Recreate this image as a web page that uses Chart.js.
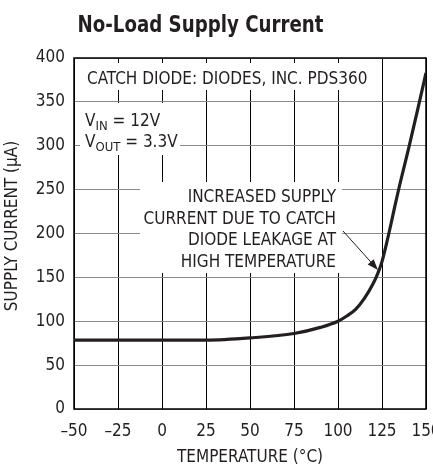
<!DOCTYPE html>
<html>
<head>
<meta charset="utf-8">
<script src="https://cdn.jsdelivr.net/npm/chart.js@4.4.1/dist/chart.umd.min.js"></script>
<style>
  html, body { margin: 0; padding: 0; background: #fff; }
  #chart { display: block; }
</style>
</head>
<body>
<canvas id="chart" width="433" height="472"></canvas>
<script>
// temperature (°C) vs no-load supply current (µA)
const temps = [-50, -25, 0, 25, 50, 75, 90, 100, 105, 110, 115, 120, 122.5, 125, 127.5, 130, 132.5, 135, 140, 145, 150];
const current = [78.5, 78.5, 78.5, 78.5, 81, 86, 93, 100, 106, 113.5, 126, 143, 154, 168, 188, 210, 233, 255, 296, 339, 383];
const xTicks = [-50, -25, 0, 25, 50, 75, 100, 125, 150];
const yTicks = [0, 50, 100, 150, 200, 250, 300, 350, 400];

const chartTitle = 'No-Load Supply Current';
const xTitle = 'TEMPERATURE (°C)';
const yTitle = 'SUPPLY CURRENT (µA)';
const diodeNote = 'CATCH DIODE: DIODES, INC. PDS360';
const leakNote = ['INCREASED SUPPLY', 'CURRENT DUE TO CATCH', 'DIODE LEAKAGE AT', 'HIGH TEMPERATURE'];

const NARROW = "'Liberation Sans Narrow', 'DejaVu Sans Condensed', 'Roboto Condensed', sans-serif";
const INK = '#231f20';

// white boxes behind the notes, title, axis titles and the arrow
const notesPlugin = {
  id: 'notes',
  beforeDatasetsDraw(chart) {
    const ctx = chart.ctx;
    const a = chart.chartArea;
    ctx.save();
    ctx.fillStyle = '#fff';
    ctx.fillRect(a.left + 1, 63, 376 - a.left, 27);
    ctx.fillRect(80, 103, 100, 52);
    ctx.fillRect(140, 182, 202, 91);
    ctx.strokeStyle = '#000';
    ctx.lineWidth = 1.5;
    ctx.strokeRect(a.left, a.top, a.right - a.left, a.bottom - a.top);

    ctx.fillStyle = INK;
    ctx.textBaseline = 'alphabetic';
    ctx.font = '17px ' + NARROW;
    ctx.textAlign = 'left';
    ctx.fillText(diodeNote, 87, 83.5);

    // V_IN / V_OUT with subscripts
    const sub = (x, y, main, s, rest) => {
      ctx.font = '17px ' + NARROW;
      ctx.fillText(main, x, y);
      x += ctx.measureText(main).width;
      ctx.font = '13px ' + NARROW;
      ctx.fillText(s, x, y + 4);
      x += ctx.measureText(s).width;
      ctx.font = '17px ' + NARROW;
      ctx.fillText(rest, x, y);
    };
    sub(85, 126, 'V', 'IN', ' = 12V');
    sub(85, 146.5, 'V', 'OUT', ' = 3.3V');

    ctx.textAlign = 'right';
    ctx.font = '17px ' + NARROW;
    leakNote.forEach((line, i) => ctx.fillText(line, 336, 202 + i * 21.6));

    // arrow toward the knee of the curve
    const x0 = 343, y0 = 231, x1 = 378, y1 = 270;
    const ang = Math.atan2(y1 - y0, x1 - x0);
    ctx.strokeStyle = INK;
    ctx.lineWidth = 1;
    ctx.beginPath();
    ctx.moveTo(x0, y0);
    ctx.lineTo(x1 - 8 * Math.cos(ang), y1 - 8 * Math.sin(ang));
    ctx.stroke();
    ctx.beginPath();
    ctx.moveTo(x1, y1);
    ctx.lineTo(x1 - 11 * Math.cos(ang) + 4 * Math.sin(ang), y1 - 11 * Math.sin(ang) - 4 * Math.cos(ang));
    ctx.lineTo(x1 - 11 * Math.cos(ang) - 4 * Math.sin(ang), y1 - 11 * Math.sin(ang) + 4 * Math.cos(ang));
    ctx.closePath();
    ctx.fill();
    ctx.restore();
  },
  afterDraw(chart) {
    const ctx = chart.ctx;
    const a = chart.chartArea;
    ctx.save();
    ctx.fillStyle = INK;
    ctx.textAlign = 'center';
    ctx.textBaseline = 'alphabetic';
    // the title face is a condensed bold, so squeeze it a bit
    ctx.save();
    ctx.translate(200.5, 31.5);
    ctx.scale(0.88, 1);
    ctx.font = 'bold 23px ' + NARROW;
    ctx.fillText(chartTitle, 0, 0);
    ctx.restore();
    ctx.font = '17px ' + NARROW;
    ctx.fillText(xTitle, (a.left + a.right) / 2, 462);
    ctx.translate(17, 226);
    ctx.rotate(-Math.PI / 2);
    ctx.fillText(yTitle, 0, 0);
    ctx.restore();
  }
};

const ctx = document.getElementById('chart').getContext('2d');
const myChart = new Chart(ctx, {
  type: 'line',
  data: {
    datasets: [{
      data: temps.map((t, i) => ({ x: t, y: current[i] })),
      borderColor: INK,
      borderWidth: 3.2,
      pointRadius: 0,
      cubicInterpolationMode: 'monotone',
      fill: false
    }]
  },
  options: {
    responsive: false,
    animation: false,
    devicePixelRatio: 1,
    layout: { padding: { top: 58, right: 7, left: 0, bottom: 0 } },
    plugins: { legend: { display: false }, tooltip: { enabled: false }, title: { display: false } },
    scales: {
      x: {
        type: 'linear',
        min: -50,
        max: 150,
        afterBuildTicks: scale => { scale.ticks = xTicks.map(v => ({ value: v })); },
        afterFit: scale => { scale.height = 63; scale.paddingLeft = 0; scale.paddingRight = 0; },
        ticks: {
          color: INK,
          font: { family: NARROW, size: 17 },
          padding: 12,
          maxRotation: 0,
          callback: v => String(v).replace('-', '\u2013')
        },
        grid: { color: '#000', lineWidth: 1, drawTicks: false },
        border: { display: false }
      },
      y: {
        min: 0,
        max: 400,
        afterBuildTicks: scale => { scale.ticks = yTicks.map(v => ({ value: v })); },
        afterFit: scale => { scale.width = 74; scale.paddingTop = 0; scale.paddingBottom = 0; },
        ticks: {
          color: INK,
          font: { family: NARROW, size: 17 },
          padding: 9
        },
        grid: { color: '#8a8a8a', lineWidth: 1, drawTicks: false },
        border: { display: false }
      }
    }
  },
  plugins: [notesPlugin]
});
</script>
</body>
</html>
